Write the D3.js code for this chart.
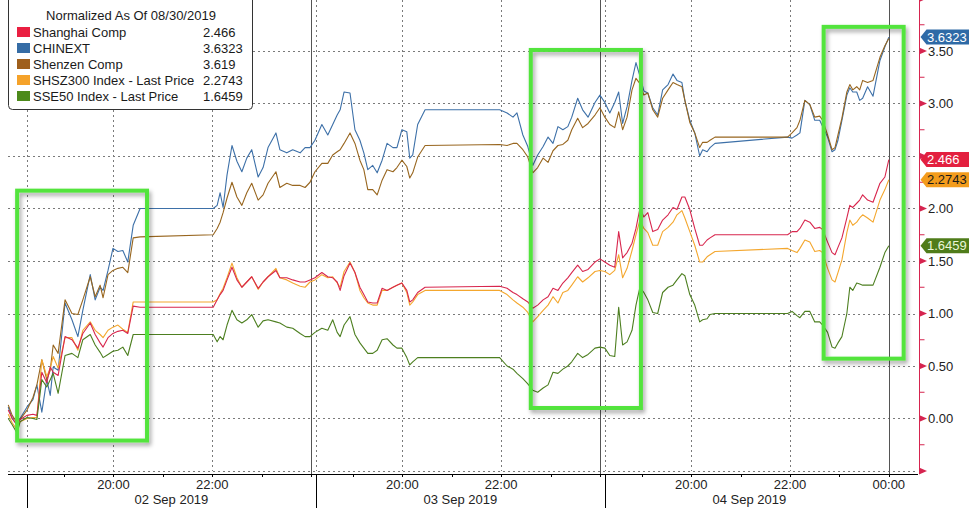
<!DOCTYPE html>
<html><head><meta charset="utf-8">
<script src="https://cdn.jsdelivr.net/npm/d3@7"></script>
<style>body{margin:0;background:#fff}svg{display:block}text{font-family:"Liberation Sans",Arial,sans-serif}</style>
</head><body><svg id="c" width="976" height="513"></svg>
<script>
// ---------- DATA ----------
const legendTitle = "Normalized As Of 08/30/2019";
const seriesNames = ["Shanghai Comp","CHINEXT","Shenzen Comp","SHSZ300 Index - Last Price","SSE50 Index - Last Price"];
const lastValues = ["2.466","3.6323","3.619","2.2743","1.6459"];
const dayLabels = ["02 Sep 2019","03 Sep 2019","04 Sep 2019"];
const dayStarts = [0, 5.85, 11.7];          // session hours at each day's open
const sessionLength = 5.85;                  // hours per day on the axis
const openClock = 18.25;                     // clock time of the open (18:15)
const hourTicks = [19,20,21,22,23,24];
const labeledHours = [20,22];
const lastDayExtraLabel = 24;                // "00:00" on last day
const yTicks = [-0.5,0,0.5,1,1.5,2,2.5,3,3.5,4];
const yMinor = [-0.25,0.25,0.75,1.25,1.75,2.25,2.75,3.25,3.75];

// session hours since 02 Sep open
const times = [-0.38,-0.30,-0.20,-0.14,0,0.12,0.20,0.30,0.40,0.47,0.53,0.63,0.77,0.91,1.03,1.13,1.28,1.38,1.48,1.54,1.64,1.74,1.84,1.94,2.04,2.15,2.29,
3.77,3.85,3.91,3.97,4.05,4.15,4.25,4.35,4.45,4.55,4.68,4.78,4.88,5.04,5.12,5.26,5.38,5.53,5.63,5.73,5.83,5.97,6.09,6.19,6.28,6.34,6.42,6.54,6.64,6.74,6.82,6.90,7.00,7.09,7.19,7.29,7.41,7.49,7.59,7.69,7.75,7.81,7.91,8.06,
9.57,9.72,9.84,9.92,10.04,10.14,10.24,10.34,10.45,10.55,10.65,10.75,10.85,10.95,11.03,11.15,11.25,11.36,11.50,11.60,11.70,11.80,11.90,11.98,12.06,12.15,12.25,12.33,12.41,12.49,12.57,12.67,12.77,12.87,12.98,13.08,13.16,13.26,13.32,13.42,13.52,13.62,13.68,13.77,13.83,13.93,
15.40,15.49,15.59,15.65,15.75,15.85,15.95,16.05,16.11,16.21,16.30,16.36,16.42,16.50,16.60,16.66,16.72,16.80,16.86,16.92,17.02,17.13,17.27,17.37,17.45];

const shanghai = [0.08,0.00,-0.06,-0.01,0.03,0.04,0.03,0.44,0.34,0.49,0.44,0.41,0.78,0.75,0.67,0.81,0.91,0.80,0.72,0.68,0.77,0.81,0.83,0.84,0.81,1.07,1.06,
1.06,1.13,1.18,1.22,1.32,1.44,1.32,1.25,1.30,1.35,1.24,1.30,1.35,1.41,1.34,1.34,1.32,1.30,1.30,1.32,1.34,1.39,1.35,1.34,1.30,1.22,1.36,1.48,1.39,1.25,1.18,1.11,1.10,1.10,1.24,1.22,1.25,1.27,1.29,1.22,1.11,1.13,1.20,1.25,
1.26,1.24,1.20,1.18,1.14,1.11,1.05,1.08,1.13,1.16,1.24,1.22,1.29,1.34,1.39,1.46,1.40,1.42,1.49,1.52,1.49,1.46,1.44,1.78,1.53,1.58,1.67,1.81,2.00,1.92,1.96,1.78,1.80,1.89,1.94,2.01,1.99,2.11,2.11,1.99,1.81,1.65,1.65,1.70,1.72,1.75,
1.75,1.78,1.78,1.81,1.89,1.87,1.81,1.82,1.80,1.68,1.58,1.56,1.63,1.72,1.91,2.03,2.01,2.05,2.08,2.13,2.08,2.06,2.24,2.30,2.466];

const chinext = [0.11,0.00,-0.06,0.00,0.11,0.18,0.32,0.06,0.37,0.22,0.49,0.46,1.10,0.94,0.78,1.03,1.37,1.13,1.25,1.22,1.41,1.62,1.59,1.60,1.49,1.84,2.00,
2.00,2.03,2.15,2.01,2.32,2.60,2.45,2.35,2.48,2.56,2.30,2.39,2.58,2.72,2.56,2.53,2.56,2.53,2.58,2.58,2.65,2.80,2.70,2.80,2.89,2.94,3.11,3.10,2.75,2.65,2.53,2.37,2.41,2.34,2.46,2.62,2.58,2.58,2.75,2.73,2.48,2.51,2.80,2.94,
2.94,2.91,2.87,2.91,2.70,2.59,2.41,2.51,2.59,2.68,2.62,2.78,2.75,2.78,2.87,3.05,2.94,2.87,3.01,3.08,3.01,2.91,3.01,3.11,2.81,2.97,3.22,3.39,3.26,3.12,3.10,2.96,2.89,3.13,3.18,3.28,3.22,3.20,3.03,2.84,2.72,2.50,2.56,2.54,2.58,2.62,
2.68,2.67,2.70,2.72,3.03,2.99,2.84,2.84,2.78,2.68,2.54,2.56,2.65,2.84,3.08,3.15,3.11,3.11,3.03,3.05,3.16,3.07,3.41,3.54,3.6323];

const shenzen = [0.13,0.03,-0.04,-0.01,0.08,0.20,0.32,0.56,0.37,0.46,0.70,0.62,1.13,1.00,0.99,1.13,1.35,1.16,1.27,1.15,1.37,1.41,1.43,1.44,1.39,1.72,1.73,
1.75,1.81,1.87,1.96,2.10,2.25,2.11,2.03,2.15,2.24,2.08,2.13,2.24,2.35,2.20,2.24,2.22,2.22,2.20,2.25,2.35,2.43,2.43,2.51,2.54,2.56,2.62,2.72,2.62,2.46,2.37,2.18,2.18,2.13,2.27,2.37,2.35,2.39,2.46,2.40,2.29,2.34,2.49,2.60,
2.61,2.60,2.62,2.62,2.56,2.49,2.34,2.39,2.48,2.44,2.55,2.60,2.61,2.65,2.75,2.86,2.77,2.81,2.89,2.96,2.87,2.80,2.77,2.92,2.75,2.87,3.13,3.24,3.19,3.08,3.10,2.94,2.87,3.05,3.13,3.20,3.18,3.16,3.03,2.82,2.72,2.58,2.63,2.63,2.65,2.68,
2.68,2.72,2.77,2.84,3.03,2.99,2.87,2.88,2.84,2.70,2.56,2.58,2.70,2.86,3.11,3.18,3.13,3.16,3.13,3.22,3.20,3.22,3.44,3.55,3.619];

const shsz300 = [0.04,-0.04,-0.11,-0.03,0.00,0.01,0.01,0.56,0.40,0.48,0.59,0.48,0.77,0.77,0.65,0.84,0.92,0.84,0.80,0.77,0.84,0.87,0.89,0.85,0.82,1.11,1.11,
1.11,1.13,1.19,1.24,1.34,1.48,1.34,1.25,1.30,1.35,1.23,1.30,1.35,1.43,1.34,1.32,1.29,1.26,1.25,1.30,1.32,1.37,1.34,1.35,1.29,1.25,1.40,1.49,1.39,1.22,1.15,1.10,1.08,1.08,1.22,1.22,1.25,1.27,1.29,1.20,1.08,1.11,1.18,1.22,
1.22,1.18,1.13,1.10,1.06,1.01,0.92,0.97,1.03,1.08,1.16,1.10,1.20,1.22,1.27,1.35,1.30,1.34,1.40,1.41,1.40,1.37,1.41,1.56,1.34,1.43,1.60,1.75,1.89,1.81,1.77,1.65,1.65,1.78,1.82,1.87,1.94,1.98,1.91,1.78,1.65,1.49,1.49,1.54,1.56,1.59,
1.62,1.60,1.58,1.62,1.70,1.68,1.59,1.60,1.58,1.43,1.32,1.30,1.39,1.51,1.77,1.89,1.84,1.87,1.91,1.94,1.91,1.87,2.08,2.18,2.2743];

const sse50 = [0.00,-0.06,-0.14,-0.03,0.01,0.00,-0.01,0.37,0.30,0.37,0.43,0.24,0.60,0.62,0.58,0.75,0.80,0.70,0.63,0.58,0.61,0.64,0.65,0.68,0.60,0.80,0.80,
0.80,0.73,0.78,0.75,0.89,1.03,0.94,0.91,0.94,0.99,0.87,0.93,0.94,0.92,0.91,0.87,0.86,0.81,0.78,0.78,0.82,0.86,0.84,0.94,0.82,0.78,0.89,0.97,0.80,0.72,0.67,0.62,0.62,0.65,0.75,0.76,0.70,0.67,0.67,0.58,0.51,0.54,0.58,0.58,
0.58,0.50,0.47,0.43,0.38,0.33,0.27,0.25,0.29,0.32,0.44,0.43,0.47,0.50,0.54,0.62,0.58,0.61,0.67,0.68,0.67,0.60,0.59,1.06,0.70,0.73,0.84,1.08,1.25,1.20,1.13,1.01,1.00,1.20,1.25,1.27,1.32,1.38,1.36,1.18,1.08,0.92,0.94,0.95,0.99,1.00,
1.00,1.02,0.98,0.96,1.02,1.02,0.92,0.92,0.89,0.82,0.68,0.67,0.72,0.78,1.00,1.25,1.22,1.29,1.28,1.27,1.27,1.27,1.44,1.58,1.6459];

// highlighted windows (session hours, value range)
const highlightT = [[-0.2, 2.43],[10.20, 12.43],[16.13, 17.75]];
const highlightV = [[-0.21, 2.17],[0.10, 3.51],[0.57, 3.73]];

// ---------- STYLE ----------
const lineColors  = ["#d8264d","#3d70a8","#98661f","#f4a72e","#4d7f20"];
const swatchColors= ["#ea1f41","#356ca5","#9f5f1c","#f5a22a","#4d8a1b"];
const tagFill     = ["#e3203f","#2e6aa6","#9f5f1c","#f39c1c","#4f7c1a"];
const tagText     = ["#ffffff","#ffffff","#ffffff","#1a1a1a","#eaf6d8"];
const drawOrder = [1,2,3,0,4];
const tagSeries = [1, 0, 3, 4];

const svg = d3.select("#c");
const x = d3.scaleLinear().domain([-0.385, 18.0]).range([8, 916]);
const y = d3.scaleLinear().domain([-0.5, 4.0]).range([471, -1.5]);
const axisX = 919.5, baseY = 474;

const series = [shanghai, chinext, shenzen, shsz300, sse50];

const clock = (d, h) => dayStarts[d] + (h - openClock);

// horizontal dotted grid
svg.append("g").selectAll("line").data(yTicks.filter(v => v < 4)).join("line")
  .attr("x1", 8).attr("x2", 915).attr("y1", d => Math.round(y(d)) + 0.5).attr("y2", d => Math.round(y(d)) + 0.5)
  .attr("stroke", "#7a7a7a").attr("stroke-width", 1).attr("stroke-dasharray", "2,3");

// vertical dotted grid: day starts and labeled hours
const vGrid = [];
dayStarts.forEach((s, d) => { vGrid.push(s); labeledHours.forEach(h => vGrid.push(clock(d, h))); });
svg.append("g").selectAll("line").data(vGrid).join("line")
  .attr("x1", d => Math.round(x(d)) + 0.5).attr("x2", d => Math.round(x(d)) + 0.5)
  .attr("y1", 0).attr("y2", 471)
  .attr("stroke", "#7a7a7a").attr("stroke-dasharray", "2,3");

// solid midnight lines
svg.append("g").selectAll("line").data(dayStarts.map((s, d) => clock(d, 24))).join("line")
  .attr("x1", d => Math.round(x(d)) + 0.5).attr("x2", d => Math.round(x(d)) + 0.5)
  .attr("y1", 0).attr("y2", 477).attr("stroke", "#555").attr("stroke-width", 1);

// series lines
const line = d3.line().x((d, i) => x(times[i])).y(d => y(d));
drawOrder.forEach(k => {
  svg.append("path").datum(series[k]).attr("d", line)
    .attr("fill", "none").attr("stroke", lineColors[k]).attr("stroke-width", 1.1)
    .attr("stroke-linejoin", "round");
});

// highlight boxes
const defs = svg.append("defs");
const f = defs.append("filter").attr("id", "sh").attr("x", "-10%").attr("y", "-10%").attr("width", "130%").attr("height", "130%");
f.append("feDropShadow").attr("dx", 2).attr("dy", 3).attr("stdDeviation", 2).attr("flood-color", "#000").attr("flood-opacity", 0.35);
svg.append("g").selectAll("rect").data(highlightT).join("rect")
  .attr("x", (d) => x(d[0])).attr("width", d => x(d[1]) - x(d[0]))
  .attr("y", (d, i) => y(highlightV[i][1])).attr("height", (d, i) => y(highlightV[i][0]) - y(highlightV[i][1]))
  .attr("fill", "none").attr("stroke", "#52e43c").attr("stroke-width", 4).attr("filter", "url(#sh)");

// legend
const lg = svg.append("g");
lg.append("rect").attr("x", 8.5).attr("y", -6).attr("width", 244).attr("height", 115.5).attr("rx", 4)
  .attr("fill", "#fff").attr("stroke", "#333");
lg.append("text").attr("x", 131).attr("y", 20).attr("text-anchor", "middle").attr("font-size", 13).attr("fill", "#1a1a1a").text(legendTitle);
seriesNames.forEach((n, i) => {
  const cy = 32 + i * 16;
  lg.append("rect").attr("x", 17).attr("y", cy - 5).attr("width", 13).attr("height", 10).attr("fill", swatchColors[i]);
  lg.append("text").attr("x", 33).attr("y", cy + 4.5).attr("font-size", 13).attr("fill", "#1a1a1a").text(n);
  lg.append("text").attr("x", 203).attr("y", cy + 4.5).attr("font-size", 13).attr("fill", "#1a1a1a").text(lastValues[i]);
});

// x axis
svg.append("line").attr("x1", 8).attr("x2", 918).attr("y1", baseY + 0.5).attr("y2", baseY + 0.5).attr("stroke", "#000");
const hourPos = [];
dayStarts.forEach((s, d) => hourTicks.forEach(h => hourPos.push(clock(d, h))));
svg.append("g").selectAll("line").data(hourPos).join("line")
  .attr("x1", d => Math.round(x(d)) + 0.5).attr("x2", d => Math.round(x(d)) + 0.5)
  .attr("y1", baseY).attr("y2", baseY + 3).attr("stroke", "#000");
svg.append("g").selectAll("line").data(dayStarts).join("line")
  .attr("x1", d => Math.round(x(d)) + 0.5).attr("x2", d => Math.round(x(d)) + 0.5)
  .attr("y1", baseY).attr("y2", 508).attr("stroke", "#000");
const tl = [];
dayStarts.forEach((s, d) => {
  labeledHours.forEach(h => tl.push({t: clock(d, h), h}));
  if (d === dayStarts.length - 1) tl.push({t: clock(d, lastDayExtraLabel), h: lastDayExtraLabel});
});
svg.append("g").selectAll("text").data(tl).join("text")
  .attr("x", d => x(d.t)).attr("y", 489).attr("text-anchor", "middle").attr("font-size", 13).attr("fill", "#222")
  .text(d => String(d.h % 24).padStart(2, "0") + ":00");
svg.append("g").selectAll("text").data(dayLabels).join("text")
  .attr("x", (d, i) => x(dayStarts[i] + sessionLength / 2)).attr("y", 504).attr("text-anchor", "middle")
  .attr("font-size", 13).attr("fill", "#222").text(d => d);

// right axis
const red = "#d6244f";
svg.append("line").attr("x1", axisX).attr("x2", axisX).attr("y1", 0).attr("y2", 473).attr("stroke", red);
svg.append("g").selectAll("path").data(yTicks).join("path")
  .attr("d", d => `M${axisX - 0.5},${y(d) - 3.5}L${axisX + 7.5},${y(d)}L${axisX - 0.5},${y(d) + 3.5}Z`).attr("fill", red);
svg.append("g").selectAll("line").data(yMinor).join("line")
  .attr("x1", axisX).attr("x2", axisX + 5).attr("y1", d => y(d)).attr("y2", d => y(d)).attr("stroke", red);
// labels hidden under a last-value tag are not drawn (as in the reference)
const tagYs = tagSeries.map(k => y(+lastValues[k]));
svg.append("g").selectAll("text")
  .data(yTicks.filter(v => v >= 0 && v < 4 && !tagYs.some(ty => Math.abs(ty - y(v)) < 10))).join("text")
  .attr("x", 928).attr("y", d => y(d) + 4.5).attr("font-size", 13).attr("fill", "#222").text(d => d.toFixed(2));

// last value tags
const tg = svg.append("g");
tagSeries.forEach(k => {
  const cy = y(+lastValues[k]);
  tg.append("path").attr("d", `M${axisX + 1},${cy}L${axisX + 7},${cy - 7.5}L969,${cy - 7.5}L969,${cy + 7.5}L${axisX + 7},${cy + 7.5}Z`)
    .attr("fill", tagFill[k]);
  tg.append("text").attr("x", 927).attr("y", cy + 4.6).attr("font-size", 13).attr("fill", tagText[k]).text(lastValues[k]);
});
</script></body></html>
